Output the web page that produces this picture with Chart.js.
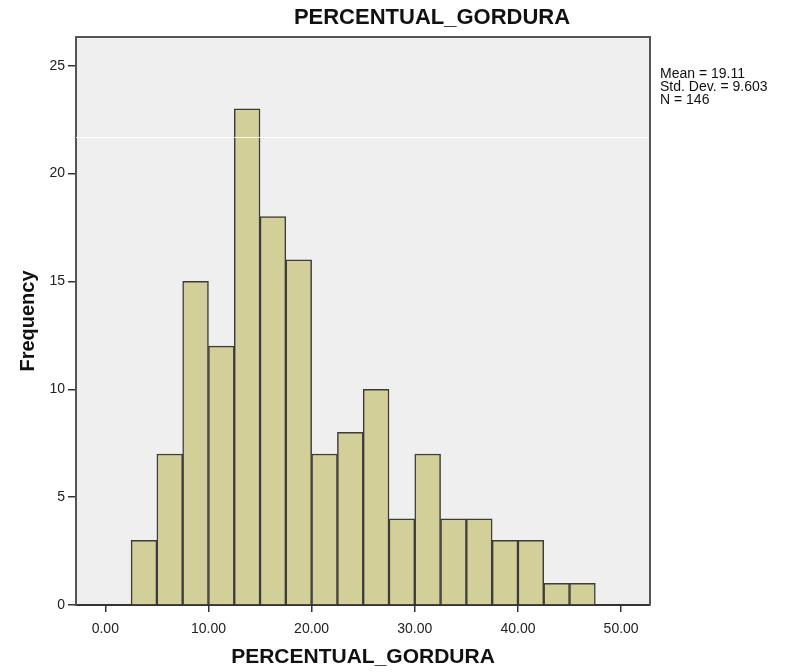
<!DOCTYPE html>
<html>
<head>
<meta charset="utf-8">
<script src="https://cdn.jsdelivr.net/npm/chart.js@4"></script>
<style>
  html, body { margin: 0; padding: 0; background: #ffffff; }
  #wrap { width: 785px; height: 672px; }
</style>
</head>
<body>
<div id="wrap"><canvas id="hist" width="785" height="672"></canvas></div>
<script>
// histogram bins (2.5 wide) and counts
const binCenters = [3.75, 6.25, 8.75, 11.25, 13.75, 16.25, 18.75, 21.25, 23.75, 26.25, 28.75, 31.25, 33.75, 36.25, 38.75, 41.25, 43.75, 46.25];
const frequencies = [3, 7, 15, 12, 23, 18, 16, 7, 8, 10, 4, 7, 4, 4, 3, 3, 1, 1];
const xTickValues = [0, 10, 20, 30, 40, 50];
const yTickValues = [0, 5, 10, 15, 20, 25];
const statsLines = ['Mean = 19.11', 'Std. Dev. = 9.603', 'N = 146'];
const chartTitle = 'PERCENTUAL_GORDURA';
const xTitle = 'PERCENTUAL_GORDURA';
const yTitle = 'Frequency';

const FONT = "'Liberation Sans', Arial, sans-serif";
const frameColor = '#555555';

const plotFrame = {
  id: 'plotFrame',
  beforeDraw(chart) {
    const { ctx, chartArea: a } = chart;
    ctx.save();
    ctx.fillStyle = '#efefef';
    ctx.fillRect(a.left, a.top, a.right - a.left, a.bottom - a.top);
    ctx.restore();
  },
  afterDatasetsDraw(chart) {
    const { ctx, chartArea: a } = chart;
    ctx.save();
    // faint stitching line across the plot
    ctx.strokeStyle = 'rgba(255,255,255,0.85)';
    ctx.lineWidth = 1;
    ctx.beginPath();
    ctx.moveTo(a.left, 137.5);
    ctx.lineTo(a.right, 137.5);
    ctx.stroke();
    // top and right frame
    ctx.strokeStyle = frameColor;
    ctx.lineWidth = 2;
    ctx.beginPath();
    ctx.moveTo(a.left, a.top);
    ctx.lineTo(a.right, a.top);
    ctx.lineTo(a.right, a.bottom);
    ctx.stroke();
    ctx.restore();
  },
  afterDraw(chart) {
    const { ctx, chartArea: a } = chart;
    ctx.save();
    ctx.fillStyle = '#111111';
    ctx.textAlign = 'center';
    ctx.textBaseline = 'middle';
    ctx.font = 'bold 22px ' + FONT;
    ctx.fillText(chartTitle, 432, 18);
    ctx.font = 'bold 21px ' + FONT;
    ctx.fillText(xTitle, (a.left + a.right) / 2, 657);
    ctx.save();
    ctx.translate(28, (a.top + a.bottom) / 2);
    ctx.rotate(-Math.PI / 2);
    ctx.font = 'bold 20px ' + FONT;
    ctx.fillText(yTitle, 0, 0);
    ctx.restore();
    ctx.textAlign = 'left';
    ctx.font = '14px ' + FONT;
    statsLines.forEach((line, i) => ctx.fillText(line, 660, 74 + i * 13));
    ctx.restore();
  },
};

new Chart(document.getElementById('hist'), {
  type: 'bar',
  data: {
    datasets: [
      {
        data: binCenters.map((x, i) => ({ x, y: frequencies[i] })),
        backgroundColor: '#d3cf98',
        borderColor: '#3c3c3c',
        borderWidth: 1.5,
        borderSkipped: 'start',
        barPercentage: 1,
        categoryPercentage: 1,
      },
    ],
  },
  options: {
    responsive: false,
    animation: false,
    layout: { padding: { top: 37, right: 135, left: 0, bottom: 0 } },
    plugins: { legend: { display: false }, tooltip: { enabled: false }, title: { display: false } },
    scales: {
      x: {
        type: 'linear',
        offset: false,
        min: -2.84,
        max: 52.8,
        afterBuildTicks: (scale) => { scale.ticks = xTickValues.map((v) => ({ value: v })); },
        afterFit: (scale) => { scale.height = 67; },
        ticks: {
          callback: (v) => Number(v).toFixed(2),
          color: '#222222',
          font: { family: FONT, size: 14 },
          padding: 9,
          maxRotation: 0,
        },
        grid: { offset: false, drawOnChartArea: false, drawTicks: true, tickLength: 7, color: '#333333', lineWidth: 1.5 },
        border: { display: true, color: '#333333', width: 2 },
      },
      y: {
        min: 0,
        max: 26.33,
        afterBuildTicks: (scale) => { scale.ticks = yTickValues.map((v) => ({ value: v })); },
        afterFit: (scale) => { scale.width = 76; },
        ticks: {
          color: '#222222',
          font: { family: FONT, size: 14 },
          padding: 3,
        },
        grid: { drawOnChartArea: false, drawTicks: true, tickLength: 8, color: '#333333', lineWidth: 1.5 },
        border: { display: true, color: frameColor, width: 2 },
      },
    },
  },
  plugins: [plotFrame],
});
</script>
</body>
</html>
